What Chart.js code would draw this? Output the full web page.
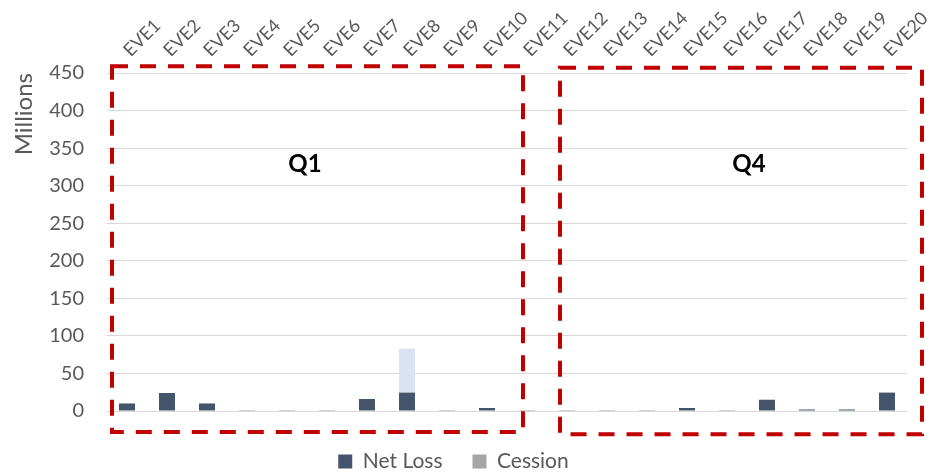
<!DOCTYPE html>
<html>
<head>
<meta charset="utf-8">
<script src="https://cdn.jsdelivr.net/npm/chart.js@4"></script>
<style>
  html, body { margin: 0; padding: 0; background: #ffffff; }
  canvas { display: block; }
</style>
</head>
<body>
<canvas id="chart" width="930" height="472"></canvas>
<script>
// Event categories
const categories = ['EVE1','EVE2','EVE3','EVE4','EVE5','EVE6','EVE7','EVE8','EVE9','EVE10',
                    'EVE11','EVE12','EVE13','EVE14','EVE15','EVE16','EVE17','EVE18','EVE19','EVE20'];

// Losses per event, in millions
const netLoss = [10, 24, 10, 1, 1, 1, 16, 24.5, 1, 4,
                 1, 1, 1, 1, 4, 1, 15, 2, 2, 24.5];
const cession = [0, 0, 0, 0, 0, 0, 0, 58.5, 0, 0,
                 0, 0, 0, 0, 0, 0, 0, 0, 0, 0];

// Value axis ticks
const yTicks = [0, 50, 100, 150, 200, 250, 300, 350, 400, 450];

// Quarter groupings: [first index, last index] and their captions
const quarterNames = ['Q1', 'Q4'];
const quarterRanges = [[0, 9], [11, 19]];

const COLOR_NET = '#44546a';
const COLOR_CESSION = '#a5a5a5';
const COLOR_CESSION_HIGHLIGHT = '#dae3f3';
const TEXT = '#595959';
const FONT = 'Lato, "Liberation Sans", sans-serif';

// Dashed frames and captions around each quarter group
const quarterFrames = {
  id: 'quarterFrames',
  afterDatasetsDraw(chart) {
    const { ctx } = chart;
    const xs = chart.scales.x;
    const ys = chart.scales.y;
    ctx.save();
    ctx.strokeStyle = '#c00000';
    ctx.lineWidth = 4;
    ctx.setLineDash([16, 12]);
    const frames = [
      { x0: quarterRanges[0][0] - 0.375, x1: quarterRanges[0][1] + 0.9, y0: 459, y1: -28, lx: 4.45 },
      { x0: quarterRanges[1][0] - 0.175, x1: quarterRanges[1][1] + 0.875, y0: 457, y1: -31, lx: 15.55 }
    ];
    frames.forEach((f, i) => {
      const l = xs.getPixelForValue(f.x0), r = xs.getPixelForValue(f.x1);
      const t = ys.getPixelForValue(f.y0), b = ys.getPixelForValue(f.y1);
      ctx.strokeRect(l, t, r - l, b - t);
      ctx.save();
      ctx.setLineDash([]);
      ctx.fillStyle = '#000000';
      ctx.font = 'bold 24px ' + FONT;
      ctx.textAlign = 'center';
      ctx.textBaseline = 'middle';
      ctx.fillText(quarterNames[i], xs.getPixelForValue(f.lx), ys.getPixelForValue(329));
      ctx.restore();
    });
    ctx.restore();
  }
};

new Chart(document.getElementById('chart'), {
  type: 'bar',
  data: {
    labels: categories,
    datasets: [
      {
        label: 'Net Loss',
        data: netLoss,
        backgroundColor: COLOR_NET,
        legendColor: COLOR_NET,
        categoryPercentage: 0.8,
        barPercentage: 0.5
      },
      {
        label: 'Cession',
        data: cession,
        backgroundColor: cession.map((v, i) => i === 7 ? COLOR_CESSION_HIGHLIGHT : COLOR_CESSION),
        legendColor: COLOR_CESSION,
        categoryPercentage: 0.8,
        barPercentage: 0.5
      }
    ]
  },
  options: {
    responsive: false,
    animation: false,
    layout: { padding: { left: 0, right: 23, top: 0, bottom: -10 } },
    plugins: {
      tooltip: { enabled: false },
      legend: {
        position: 'bottom',
        labels: {
          color: TEXT,
          font: { family: FONT, size: 21 },
          boxWidth: 14,
          boxHeight: 14,
          padding: 30,
          generateLabels(chart) {
            const items = Chart.defaults.plugins.legend.labels.generateLabels(chart);
            items.forEach(it => {
              const c = chart.data.datasets[it.datasetIndex].legendColor;
              it.fillStyle = c;
              it.strokeStyle = c;
              it.lineWidth = 0;
            });
            return items;
          }
        }
      }
    },
    scales: {
      x: {
        position: 'top',
        stacked: true,
        grid: { display: false, drawTicks: false },
        border: { display: false },
        ticks: {
          color: TEXT,
          font: { family: FONT, size: 18 },
          minRotation: 45,
          maxRotation: 45,
          autoSkip: false,
          padding: 12,
          labelOffset: 15
        },
        afterFit(s) { s.height = 73; s.paddingLeft = 0; s.paddingRight = 0; }
      },
      xBottom: {
        type: 'category',
        labels: categories,
        position: 'bottom',
        grid: { display: false, drawTicks: false },
        border: { display: false },
        ticks: { display: false },
        afterFit(s) { s.height = 10; s.paddingLeft = 0; s.paddingRight = 0; }
      },
      y: {
        stacked: true,
        min: 0,
        max: 450,
        afterBuildTicks(s) { s.ticks = yTicks.map(v => ({ value: v })); },
        grid: { color: '#d9d9d9', lineWidth: 1, drawTicks: false },
        border: { display: false },
        ticks: {
          color: TEXT,
          font: { family: FONT, size: 20 },
          padding: 23
        },
        title: {
          display: true,
          text: 'Millions',
          align: 'end',
          color: TEXT,
          font: { family: FONT, size: 24 },
          padding: { top: 10, bottom: 0 }
        },
        afterFit(s) { s.width = 107; }
      }
    }
  },
  plugins: [quarterFrames]
});
</script>
</body>
</html>
